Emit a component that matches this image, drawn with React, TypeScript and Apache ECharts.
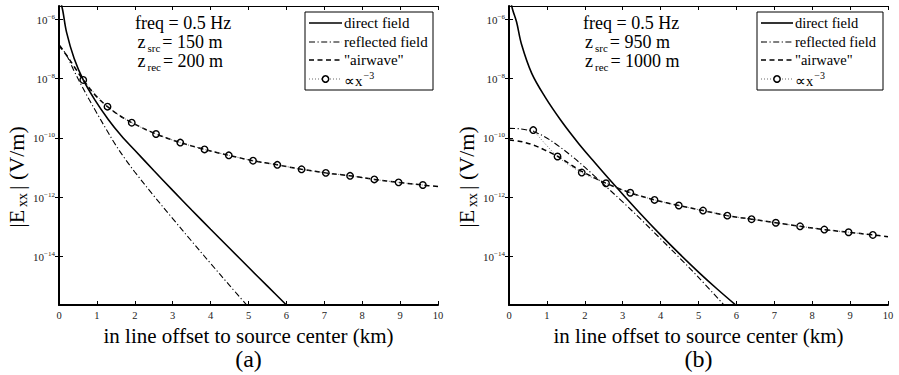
import React, { useEffect, useRef } from "react";
import * as echarts from "echarts";

const FONT = '"Liberation Serif", "Times New Roman", Times, serif';

// All y values are log10(|Exx| in V/m).
// ---------- panel (a) ----------
const directA_x = [0.05, 0.1, 0.2, 0.4, 0.64, 0.95, 1.3, 1.65, 2.0, 2.5, 3.0, 3.5, 4.0, 4.5, 5.0, 5.5, 6.0];
const directA = [-5.45, -5.72, -6.45, -7.33, -8.05, -8.73, -9.38, -9.94, -10.42, -11.1, -11.77, -12.43, -13.08, -13.72, -14.36, -14.995, -15.63];

const reflA_x = [0, 0.2, 0.4, 0.6, 0.8, 1.0, 1.25, 1.5, 1.75, 2.0, 2.5, 3.0, 3.5, 4.0, 4.5, 5.0];
const reflA = [-6.85, -7.22, -7.75, -8.25, -8.72, -9.17, -9.72, -10.25, -10.72, -11.15, -11.95, -12.72, -13.48, -14.23, -14.97, -15.7];

const airA_x = [0, 0.2, 0.42, 0.64, 0.96, 1.28, 1.6, 1.92, 2.56, 3.2, 3.84, 4.48, 5.12, 5.76, 6.4, 7.04, 7.68, 8.32, 8.96, 9.6, 10];
const airA = [-6.9, -7.22, -7.64, -8.05, -8.57, -8.95, -9.25, -9.49, -9.87, -10.16, -10.39, -10.59, -10.77, -10.91, -11.06, -11.18, -11.28, -11.4, -11.5, -11.59, -11.64];

const circ_x = [0.64, 1.28, 1.92, 2.56, 3.2, 3.84, 4.48, 5.12, 5.76, 6.4, 7.04, 7.68, 8.32, 8.96, 9.6];
const circA = [-8.05, -8.95, -9.49, -9.87, -10.16, -10.39, -10.59, -10.77, -10.91, -11.06, -11.18, -11.28, -11.4, -11.5, -11.59];

// ---------- panel (b) ----------
const directB_x = [0.05, 0.1, 0.2, 0.33, 0.6, 0.95, 1.39, 1.83, 2.2, 2.6, 3.0, 3.5, 4.0, 4.5, 5.0, 5.5, 6.0];
const directB = [-5.45, -5.7, -6.1, -6.85, -7.83, -8.62, -9.45, -10.18, -10.74, -11.33, -11.9, -12.6, -13.27, -13.91, -14.52, -15.1, -15.65];

const reflB_x = [0, 0.3, 0.64, 0.95, 1.28, 1.6, 1.92, 2.2, 2.56, 3.0, 3.5, 4.0, 4.5, 5.0, 5.7];
const reflB = [-9.68, -9.7, -9.79, -9.97, -10.25, -10.56, -10.9, -11.22, -11.64, -12.16, -12.77, -13.4, -14.04, -14.7, -15.67];

const airB_x = [0, 0.3, 0.64, 0.96, 1.28, 1.6, 1.92, 2.56, 3.2, 3.84, 4.48, 5.12, 5.76, 6.4, 7.04, 7.68, 8.32, 8.96, 9.6, 10];
const airB = [-10.07, -10.12, -10.24, -10.42, -10.62, -10.88, -11.13, -11.53, -11.85, -12.09, -12.28, -12.45, -12.62, -12.74, -12.86, -12.98, -13.09, -13.18, -13.27, -13.33];

const circB = [-9.74, -10.63, -11.17, -11.53, -11.85, -12.09, -12.28, -12.45, -12.62, -12.74, -12.86, -12.98, -13.09, -13.18, -13.27];

// axes
const yTickExponents = [-14, -12, -10, -8, -6];
const Y_MIN = -15.63;
const Y_MAX = -5.56;
const X_MIN = 0;
const X_MAX = 10;

// texts
const legendLabels = ["direct field", "reflected field", '"airwave"'];
const xAxisTitle = "in line offset to source center (km)";
const panelTags = ["(a)", "(b)"];
const freqText = "freq = 0.5 Hz";
const zsrcValues = ["150 m", "950 m"];
const zrecValues = ["200 m", "1000 m"];

const pair = (xs: number[], ys: number[]) => xs.map((x, i) => [x, ys[i]]);

const SOLID = { type: "solid" as const, width: 1.6, color: "#000" };
const DASHDOT = { type: [6, 2.5, 1.2, 2.5], width: 1.1, color: "#000" };
const DASHED = { type: [5, 3.5], width: 1.5, color: "#000" };
const DOTTED = { type: [1, 2], width: 0.8, color: "#444" };

function bottomX(gridIndex: number) {
  return {
    type: "value",
    gridIndex,
    min: X_MIN,
    max: X_MAX,
    interval: 1,
    position: "bottom",
    name: xAxisTitle,
    nameLocation: "middle",
    nameGap: 16,
    nameTextStyle: { fontFamily: FONT, fontSize: 21, color: "#000" },
    axisLine: { show: true, lineStyle: { color: "#000", width: 2 } },
    axisTick: { show: true, inside: true, length: 4, lineStyle: { color: "#000", width: 1 } },
    axisLabel: { show: true, fontFamily: FONT, fontSize: 10.5, color: "#222", margin: 5 },
    splitLine: { show: false },
  };
}
function topX(gridIndex: number) {
  return {
    type: "value",
    gridIndex,
    min: X_MIN,
    max: X_MAX,
    interval: 1,
    position: "top",
    axisLine: { show: true, lineStyle: { color: "#000", width: 1 } },
    axisTick: { show: true, inside: true, length: 4, lineStyle: { color: "#000", width: 1 } },
    axisLabel: { show: false },
    splitLine: { show: false },
  };
}
function leftY(gridIndex: number) {
  return {
    type: "value",
    gridIndex,
    min: Y_MIN,
    max: Y_MAX,
    position: "left",
    axisLine: { show: true, lineStyle: { color: "#000", width: 2 } },
    axisTick: { show: true, inside: true, length: 4, customValues: yTickExponents, lineStyle: { color: "#000", width: 1 } },
    axisLabel: {
      show: true,
      customValues: yTickExponents,
      margin: 4,
      formatter: (v: number) => `{b|10}{s|\u2212${Math.abs(v)}}`,
      rich: {
        b: { fontFamily: FONT, fontSize: 11, color: "#222", lineHeight: 12, verticalAlign: "bottom" },
        s: { fontFamily: FONT, fontSize: 7, color: "#222", lineHeight: 7, verticalAlign: "top", padding: [0, 0, 8, 0] },
      },
    },
    splitLine: { show: false },
  };
}
function rightY(gridIndex: number) {
  return {
    type: "value",
    gridIndex,
    min: Y_MIN,
    max: Y_MAX,
    position: "right",
    axisLine: { show: true, lineStyle: { color: "#000", width: 1 } },
    axisTick: { show: true, inside: true, length: 4, customValues: yTickExponents, lineStyle: { color: "#000", width: 1 } },
    axisLabel: { show: false },
    splitLine: { show: false },
  };
}

function line(name: string, data: number[][], axis: number, lineStyle: any, z = 2) {
  return {
    name,
    type: "line",
    xAxisIndex: axis,
    yAxisIndex: axis,
    data,
    symbol: "none",
    showSymbol: false,
    smooth: 0.35,
    lineStyle,
    z,
    silent: true,
  };
}
function circles(name: string, data: number[][], axis: number) {
  return {
    name,
    type: "line",
    xAxisIndex: axis,
    yAxisIndex: axis,
    data,
    symbol: "circle",
    symbolSize: 6.5,
    showSymbol: true,
    smooth: 0.3,
    lineStyle: DOTTED,
    itemStyle: { color: "rgba(255,255,255,0)", borderColor: "#000", borderWidth: 1.4 },
    z: 5,
    silent: true,
  };
}

const rich18 = {
  b: { fontFamily: FONT, fontSize: 18, color: "#000", lineHeight: 20, verticalAlign: "top" },
  sub: { fontFamily: FONT, fontSize: 11, color: "#000", lineHeight: 11, verticalAlign: "top", padding: [9, 2, 0, 2] },
};

function panelGraphics(p: number) {
  const left = p === 0 ? 59 : 509;
  const right = left + 379;
  const cx = (left + right) / 2;
  const annX = p === 0 ? 135 : 583;
  const zX = p === 0 ? 137.5 : 585;
  const box = p === 0 ? { x: 305, w: 128 } : { x: 757, w: 126 };
  const lx1 = box.x + 4;
  const lx2 = box.x + (p === 0 ? 37 : 36);
  const tx = lx2 + 2;
  const fs = p === 0 ? 15 : 14.5;
  const rows = [23, 42, 60, 79];
  const els: any[] = [];
  // panel tag
  els.push({ type: "text", x: cx, y: 359, style: { text: panelTags[p], font: `24px ${FONT}`, fill: "#000", align: "center", verticalAlign: "middle" } });
  // y axis title
  els.push({
    type: "text",
    x: left - 42,
    y: 177,
    rotation: Math.PI / 2,
    style: {
      text: "{b||E}{sub|xx}{b|| (V/m)}",
      rich: {
        b: { fontFamily: FONT, fontSize: 22, color: "#000", lineHeight: 23, verticalAlign: "top" },
        sub: { fontFamily: FONT, fontSize: 14, color: "#000", lineHeight: 14, verticalAlign: "top", padding: [10, 3, 0, 3] },
      },
      align: "center",
      verticalAlign: "middle",
    },
  });
  // annotations
  els.push({ type: "text", x: annX, y: 23, style: { text: freqText, font: `18px ${FONT}`, fill: "#000", align: "left", verticalAlign: "middle" } });
  els.push({ type: "text", x: zX, y: 33, style: { text: `{b|z}{sub|src}{b|= ${zsrcValues[p]}}`, rich: rich18, align: "left", verticalAlign: "top" } });
  els.push({ type: "text", x: zX, y: 52, style: { text: `{b|z}{sub|rec}{b|= ${zrecValues[p]}}`, rich: rich18, align: "left", verticalAlign: "top" } });
  // legend box
  els.push({ type: "rect", shape: { x: box.x, y: 12, width: box.w, height: 78 }, style: { fill: "#fff", stroke: "#000", lineWidth: 1 }, z: 10 });
  const styles = [
    { lineDash: null as any, lineWidth: 1.6 },
    { lineDash: [6, 2.5, 1.2, 2.5], lineWidth: 1.1 },
    { lineDash: [5, 3.5], lineWidth: 1.5 },
    { lineDash: [1, 2], lineWidth: 0.8 },
  ];
  rows.forEach((y, i) => {
    els.push({
      type: "line",
      shape: { x1: lx1, y1: y, x2: lx2, y2: y },
      style: { stroke: i === 3 ? "#444" : "#000", lineWidth: styles[i].lineWidth, lineDash: styles[i].lineDash },
      z: 11,
    });
    if (i < 3) {
      els.push({ type: "text", x: tx, y, style: { text: legendLabels[i], font: `${fs}px ${FONT}`, fill: "#000", align: "left", verticalAlign: "middle" }, z: 11 });
    }
  });
  els.push({ type: "circle", shape: { cx: (lx1 + lx2) / 2, cy: rows[3], r: 3.2 }, style: { fill: "#fff", stroke: "#000", lineWidth: 1.5 }, z: 12 });
  els.push({
    type: "text",
    x: tx,
    y: rows[3] - 9,
    style: {
      text: "{b|\u221Dx}{sup|\u22123}",
      rich: {
        b: { fontFamily: FONT, fontSize: fs, color: "#000", lineHeight: 18, verticalAlign: "bottom" },
        sup: { fontFamily: FONT, fontSize: 10, color: "#000", lineHeight: 10, verticalAlign: "top", padding: [0, 0, 8, 1] },
      },
      align: "left",
      verticalAlign: "top",
    },
    z: 11,
  });
  return els;
}

export default function App() {
  const ref = useRef<HTMLDivElement>(null);
  useEffect(() => {
    document.body.style.margin = "0";
    if (!ref.current) return;
    const chart = echarts.init(ref.current, undefined, { renderer: "svg" });
    const option: any = {
      animation: false,
      backgroundColor: "#fff",
      grid: [
        { left: 59, top: 6, width: 379, height: 299 },
        { left: 509, top: 6, width: 379, height: 299 },
      ],
      xAxis: [bottomX(0), topX(0), bottomX(1), topX(1)],
      yAxis: [leftY(0), rightY(0), leftY(1), rightY(1)],
      series: [
        line("reflected field (a)", pair(reflA_x, reflA), 0, DASHDOT),
        line('"airwave" (a)', pair(airA_x, airA), 0, DASHED),
        circles("x^-3 (a)", pair(circ_x, circA), 0),
        line("direct field (a)", pair(directA_x, directA), 0, SOLID, 3),
        line("reflected field (b)", pair(reflB_x, reflB), 2, DASHDOT),
        line('"airwave" (b)', pair(airB_x, airB), 2, DASHED),
        circles("x^-3 (b)", pair(circ_x, circB), 2),
        line("direct field (b)", pair(directB_x, directB), 2, SOLID, 3),
      ],
      graphic: [...panelGraphics(0), ...panelGraphics(1)],
    };
    chart.setOption(option);
    return () => chart.dispose();
  }, []);
  return <div ref={ref} style={{ width: 899, height: 375 }} />;
}
